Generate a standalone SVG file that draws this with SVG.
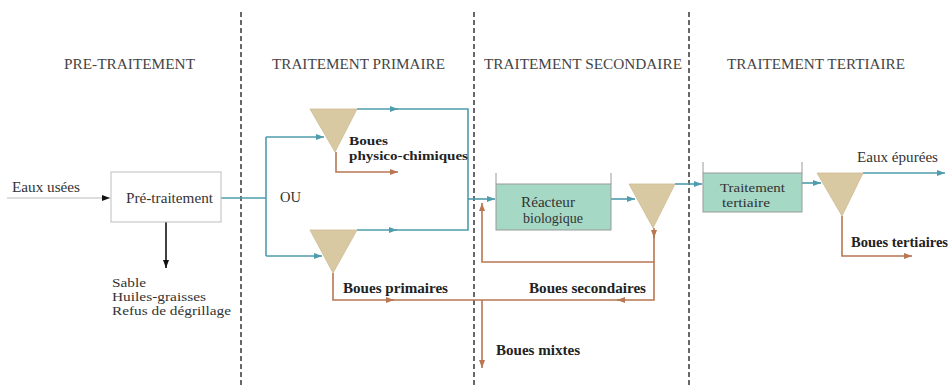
<svg xmlns="http://www.w3.org/2000/svg" width="952" height="388" viewBox="0 0 952 388" font-family="'Liberation Serif', 'DejaVu Serif', serif">
<style>
text{font-family:'Liberation Serif','DejaVu Serif',serif;fill:#333}
.h{font-size:14.5px;fill:#444}
.t{font-size:14.5px}
.s{font-size:13px}
.b{font-size:14.5px;font-weight:bold;fill:#222}
.bs{font-size:13px;font-weight:bold;fill:#222}
.teal{fill:none;stroke:#4e9cac;stroke-width:1.6}
.brown{fill:none;stroke:#b87752;stroke-width:1.6}
.dash{fill:none;stroke:#444;stroke-width:1.6;stroke-dasharray:5 3}
.tri{fill:#d9c9a3;stroke:#cdbb94;stroke-width:0.8}
.tank{fill:#a6d8c6;stroke:#9a9a9a;stroke-width:1}
.wall{fill:none;stroke:#9a9a9a;stroke-width:1}
</style>
<defs>
<marker id="aT" markerUnits="userSpaceOnUse" markerWidth="9" markerHeight="7" refX="8" refY="3" orient="auto"><path d="M0,0 L8,3 L0,6 z" fill="#4e9cac"/></marker>
<marker id="aB" markerUnits="userSpaceOnUse" markerWidth="9" markerHeight="7" refX="8" refY="3" orient="auto"><path d="M0,0 L8,3 L0,6 z" fill="#b87752"/></marker>
<marker id="aK" markerUnits="userSpaceOnUse" markerWidth="9" markerHeight="7" refX="8" refY="3" orient="auto"><path d="M0,0 L8,3 L0,6 z" fill="#111"/></marker>
</defs>
<rect width="952" height="388" fill="#fff"/>
<g id="zones">
<line class="dash" x1="241" y1="12" x2="241" y2="388"/>
<line class="dash" x1="474" y1="12" x2="474" y2="388"/>
<line class="dash" x1="689" y1="12" x2="689" y2="388"/>
<text class="h" x="64" y="69" textLength="131" lengthAdjust="spacingAndGlyphs">PRE-TRAITEMENT</text>
<text class="h" x="272" y="69" textLength="173" lengthAdjust="spacingAndGlyphs">TRAITEMENT PRIMAIRE</text>
<text class="h" x="484" y="69" textLength="198" lengthAdjust="spacingAndGlyphs">TRAITEMENT SECONDAIRE</text>
<text class="h" x="727" y="69" textLength="178" lengthAdjust="spacingAndGlyphs">TRAITEMENT TERTIAIRE</text>
</g>
<g id="connectors">
<path d="M7,198 H110" fill="none" stroke="#bbb" stroke-width="1.2" marker-end="url(#aK)"/>
<path d="M166,222 V268" fill="none" stroke="#111" stroke-width="1.6" marker-end="url(#aK)"/>
<path class="teal" d="M221,198 H266"/>
<path class="teal" d="M266,137 V256"/>
<path class="teal" d="M266,137 H324" marker-end="url(#aT)"/>
<path class="teal" d="M266,256 H322" marker-end="url(#aT)"/>
<path class="teal" d="M357,109 H398" marker-end="url(#aT)"/>
<path class="teal" d="M396,109 H468 V230 H396"/>
<path class="teal" d="M357,230 H397" marker-end="url(#aT)"/>
<path class="teal" d="M468,199 H495" marker-end="url(#aT)"/>
<path class="teal" d="M611,199 H635" marker-end="url(#aT)"/>
<path class="teal" d="M675,184 H702" marker-end="url(#aT)"/>
<path class="teal" d="M802,183 H821" marker-end="url(#aT)"/>
<path class="teal" d="M863,173 H945" marker-end="url(#aT)"/>
<path class="brown" d="M336,152 V172 H398" marker-end="url(#aB)"/>
<path class="brown" d="M333,273 V300 H394" marker-end="url(#aB)"/>
<path class="brown" d="M392,300 H482"/>
<path class="brown" d="M654,228 V238" marker-end="url(#aB)"/>
<path class="brown" d="M654,236 V300 H617" marker-end="url(#aB)"/>
<path class="brown" d="M619,300 H482"/>
<path class="brown" d="M654,262 H482 V203" marker-end="url(#aB)"/>
<path class="brown" d="M482,300 V368" marker-end="url(#aB)"/>
<path class="brown" d="M842,216 V256 H912" marker-end="url(#aB)"/>
</g>
<g id="eaux-usees"><text class="t" x="12" y="192" textLength="68" lengthAdjust="spacingAndGlyphs">Eaux usées</text></g>
<g id="pretraitement">
<rect x="111" y="172" width="110" height="50" fill="#fff" stroke="#bdbdbd" stroke-width="1"/>
<text class="t" x="126" y="203" textLength="87" lengthAdjust="spacingAndGlyphs">Pré-traitement</text>
</g>
<g id="refus">
<text class="s" x="112" y="287" textLength="34" lengthAdjust="spacingAndGlyphs">Sable</text>
<text class="s" x="112" y="301" textLength="94" lengthAdjust="spacingAndGlyphs">Huiles-graisses</text>
<text class="s" x="112" y="315" textLength="119" lengthAdjust="spacingAndGlyphs">Refus de dégrillage</text>
</g>
<g id="ou"><text class="t" x="280" y="202">OU</text></g>
<g id="decanteur-physico">
<polygon class="tri" points="310,109 357,109 335,152"/>
<text class="bs" x="349" y="145" textLength="39" lengthAdjust="spacingAndGlyphs">Boues</text>
<text class="bs" x="349" y="160" textLength="119" lengthAdjust="spacingAndGlyphs">physico-chimiques</text>
</g>
<g id="decanteur-primaire">
<polygon class="tri" points="310,230 357,230 333,273"/>
<text class="b" x="343" y="293" textLength="105" lengthAdjust="spacingAndGlyphs">Boues primaires</text>
</g>
<g id="reacteur">
<rect class="tank" x="496" y="184" width="115" height="46"/>
<path class="wall" d="M496,173 V184 M611,173 V184"/>
<text class="t" x="521" y="207" textLength="54" lengthAdjust="spacingAndGlyphs">Réacteur</text>
<text class="t" x="523" y="223" textLength="60" lengthAdjust="spacingAndGlyphs">biologique</text>
</g>
<g id="clarificateur">
<polygon class="tri" points="629,184 675,184 653,228"/>
</g>
<g id="boues-secondaires"><text class="b" x="529" y="293" textLength="117" lengthAdjust="spacingAndGlyphs">Boues secondaires</text></g>
<g id="boues-mixtes"><text class="b" x="496" y="355" textLength="84" lengthAdjust="spacingAndGlyphs">Boues mixtes</text></g>
<g id="tertiaire">
<rect class="tank" x="703" y="173" width="99" height="39"/>
<path class="wall" d="M703,162 V173 M802,162 V173"/>
<text class="s" x="720" y="192" textLength="65" lengthAdjust="spacingAndGlyphs">Traitement</text>
<text class="s" x="722" y="207" textLength="48" lengthAdjust="spacingAndGlyphs">tertiaire</text>
</g>
<g id="decanteur-tertiaire">
<polygon class="tri" points="817,173 863,173 842,216"/>
<text class="t" x="857" y="162" textLength="81" lengthAdjust="spacingAndGlyphs">Eaux épurées</text>
<text class="b" x="851" y="247" textLength="97" lengthAdjust="spacingAndGlyphs">Boues tertiaires</text>
</g>
</svg>
